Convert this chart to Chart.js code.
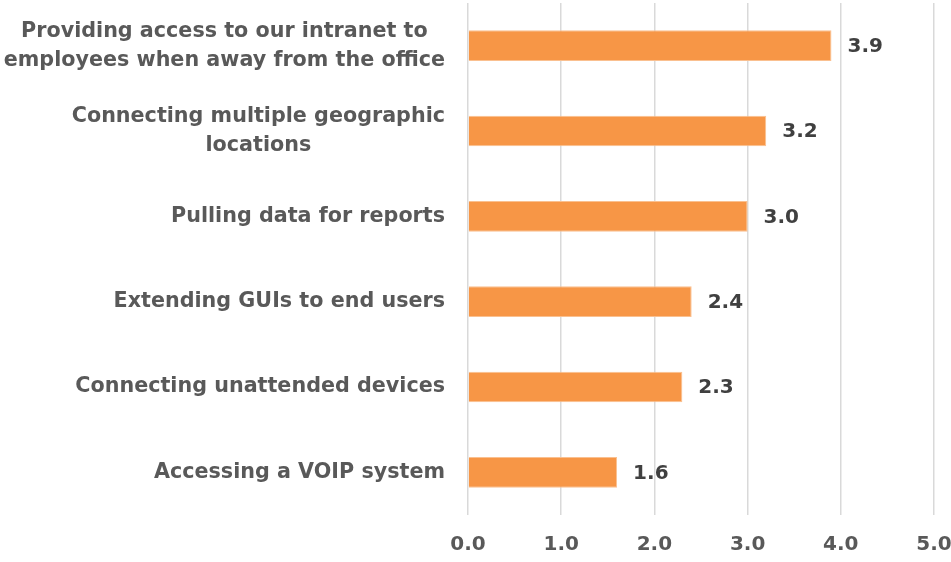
<!DOCTYPE html>
<html>
<head>
<meta charset="utf-8">
<script src="https://cdn.jsdelivr.net/npm/chart.js@4.4.0/dist/chart.umd.min.js"></script>
<style>
  html, body { margin: 0; padding: 0; background: #ffffff; }
  #wrap { width: 951px; height: 562px; position: relative; }
</style>
</head>
<body>
<div id="wrap"><canvas id="usesChart"></canvas></div>
<script>
// categories, values, axis ticks
const categories = [
    ['Providing access to our intranet to', 'employees when away from the office'],
    ['Connecting multiple geographic', 'locations'],
    ['Pulling data for reports'],
    ['Extending GUIs to end users'],
    ['Connecting unattended devices'],
    ['Accessing a VOIP system']
];
const scores = [3.9, 3.2, 3.0, 2.4, 2.3, 1.6];
const xTicks = [0, 1, 2, 3, 4, 5];

const FONT = '"DejaVu Sans", sans-serif';
const labelColor = '#595959';

// category labels: each block right-aligned, lines centered inside the block
const categoryLabels = {
    id: 'categoryLabels',
    afterDraw(chart) {
        const ctx = chart.ctx;
        const y = chart.scales.y;
        const rightEdge = chart.chartArea.left - 23;
        ctx.save();
        ctx.font = '700 20.7px ' + FONT;
        ctx.fillStyle = labelColor;
        ctx.textAlign = 'center';
        ctx.textBaseline = 'middle';
        const lh = 29;
        categories.forEach((lines, i) => {
            const cy = y.getPixelForValue(i);
            const w = Math.max(...lines.map(l => ctx.measureText(l).width));
            const cx = rightEdge - w / 2;
            const top = cy - (lines.length - 1) * lh / 2;
            lines.forEach((l, k) => ctx.fillText(l, cx, top + k * lh));
        });
        ctx.restore();
    }
};

// value labels to the right of each bar
const valueLabels = {
    id: 'valueLabels',
    afterDatasetsDraw(chart) {
        const ctx = chart.ctx;
        const meta = chart.getDatasetMeta(0);
        ctx.save();
        ctx.font = '700 20px ' + FONT;
        ctx.fillStyle = '#404040';
        ctx.textAlign = 'left';
        ctx.textBaseline = 'middle';
        meta.data.forEach((bar, i) => {
            ctx.fillText(scores[i].toFixed(1), bar.x + 16, bar.y + 1);
        });
        ctx.restore();
    }
};

new Chart(document.getElementById('usesChart'), {
    type: 'bar',
    data: {
        labels: categories.map(c => c.join(' ')),
        datasets: [{
            data: scores,
            backgroundColor: '#F79646',
            borderColor: '#FAC090',
            borderWidth: 1,
            barPercentage: 0.6,
            categoryPercentage: 0.6
        }]
    },
    options: {
        indexAxis: 'y',
        responsive: true,
        maintainAspectRatio: false,
        animation: false,
        layout: { padding: { top: 3, right: 17, bottom: 0, left: 0 } },
        scales: {
            x: {
                min: 0,
                max: 5,
                afterBuildTicks: (scale) => { scale.ticks = xTicks.map(v => ({ value: v })); },
                grid: { color: '#d9d9d9', lineWidth: 1.5, drawTicks: false },
                border: { display: false },
                ticks: {
                    color: labelColor,
                    font: { family: FONT, size: 20, weight: '700' },
                    padding: 18,
                    callback: (v) => Number(v).toFixed(1)
                },
                afterFit: (scale) => {
                    scale.height = 47;
                    scale.paddingLeft = 0;
                    scale.paddingRight = 0;
                }
            },
            y: {
                grid: { display: false },
                border: { display: false },
                ticks: { display: false },
                afterFit: (scale) => { scale.width = 468; }
            }
        },
        plugins: {
            legend: { display: false },
            tooltip: { enabled: false }
        }
    },
    plugins: [categoryLabels, valueLabels]
});
</script>
</body>
</html>
